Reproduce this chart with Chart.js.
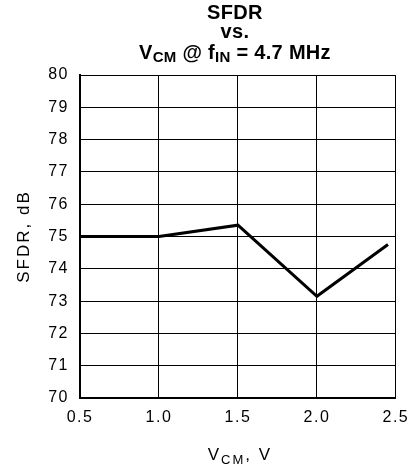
<!DOCTYPE html>
<html>
<head>
<meta charset="utf-8">
<script src="https://cdn.jsdelivr.net/npm/chart.js@4/dist/chart.umd.min.js"></script>
<style>
  html, body { margin: 0; padding: 0; background: #fff; }
  #wrap { width: 417px; height: 472px; }
</style>
</head>
<body>
<div id="wrap"><canvas id="myChart" width="417" height="472"></canvas></div>
<script>
// data
const vcm = [0.5, 1.0, 1.5, 2.0, 2.45];
const sfdr = [75.0, 75.0, 75.35, 73.15, 74.75];
const xTicks = [0.5, 1.0, 1.5, 2.0, 2.5];
const yTicks = [70, 71, 72, 73, 74, 75, 76, 77, 78, 79, 80];

const tickFont = { family: "Liberation Sans", size: 16 };

// draw text with a subscript part, centred on x
function drawSub(ctx, parts, x, y, font, subFont) {
  let w = 0;
  parts.forEach(p => {
    ctx.font = p.sub ? subFont : font;
    w += ctx.measureText(p.t).width;
  });
  let cx = x - w / 2;
  parts.forEach(p => {
    ctx.font = p.sub ? subFont : font;
    ctx.fillText(p.t, cx, p.sub ? y + 5 : y);
    cx += ctx.measureText(p.t).width;
  });
}

const labels = {
  id: "labels",
  beforeDraw(chart) {
    // plotter style lettering is spaced out a bit
    chart.ctx.letterSpacing = "1.5px";
  },
  afterDraw(chart) {
    const ctx = chart.ctx;
    const area = chart.chartArea;
    const mid = (area.left + area.right) / 2;
    ctx.save();
    ctx.fillStyle = "#000";
    ctx.textBaseline = "middle";
    ctx.textAlign = "left";
    ctx.letterSpacing = "0.3px";
    const bold = "bold 20px 'Liberation Sans'";
    const boldSub = "bold 15px 'Liberation Sans'";
    drawSub(ctx, [{ t: "SFDR" }], mid - 3, 13, bold, boldSub);
    drawSub(ctx, [{ t: "vs." }], mid - 3, 32, bold, boldSub);
    drawSub(ctx, [{ t: "V" }, { t: "CM", sub: true }, { t: " @ f" }, { t: "IN", sub: true }, { t: " = 4.7 MHz" }],
      mid - 3, 53, bold, boldSub);

    ctx.letterSpacing = "2px";
    const reg = "17px 'Liberation Sans'";
    const regSub = "13px 'Liberation Sans'";
    drawSub(ctx, [{ t: "V" }, { t: "CM", sub: true }, { t: ", V" }], mid + 2, 455, reg, regSub);

    ctx.translate(24, (area.top + area.bottom) / 2);
    ctx.rotate(-Math.PI / 2);
    drawSub(ctx, [{ t: "SFDR, dB" }], 0, 0, reg, regSub);
    ctx.restore();
  }
};

new Chart(document.getElementById("myChart"), {
  type: "scatter",
  data: {
    datasets: [{
      data: vcm.map((v, i) => ({ x: v, y: sfdr[i] })),
      showLine: true,
      borderColor: "#000",
      borderWidth: 3,
      pointRadius: 0,
      tension: 0
    }]
  },
  options: {
    responsive: false,
    animation: false,
    layout: { padding: { top: 75, right: 15, left: 0, bottom: 0 } },
    plugins: { legend: { display: false }, tooltip: { enabled: false } },
    scales: {
      x: {
        min: 0.5, max: 2.5,
        afterBuildTicks: s => { s.ticks = xTicks.map(v => ({ value: v })); },
        afterFit: s => { s.height = 74; },
        ticks: { color: "#000", font: tickFont, padding: 10, maxRotation: 0, callback: v => v.toFixed(1) },
        grid: { color: "#000", lineWidth: 1, drawTicks: false },
        border: { color: "#000", width: 2 }
      },
      y: {
        min: 70, max: 80,
        afterBuildTicks: s => { s.ticks = yTicks.map(v => ({ value: v })); },
        afterFit: s => { s.width = 80; },
        ticks: { color: "#000", font: tickFont, padding: 11 },
        grid: { color: "#000", lineWidth: 1, drawTicks: false },
        border: { color: "#000", width: 2 }
      }
    }
  },
  plugins: [labels]
});
</script>
</body>
</html>
